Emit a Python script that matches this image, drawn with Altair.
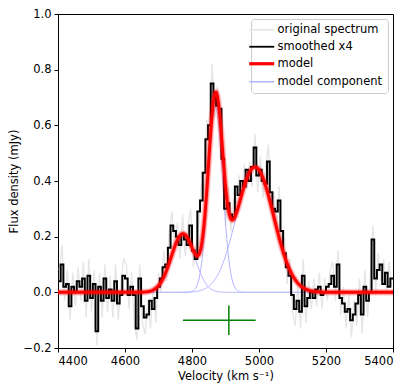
import altair as alt
import pandas as pd
import numpy as np

# ---------------- data ----------------
bin_width = 8
smooth_start = 4400
smoothed = [
    0.04, 0.10, 0.02, 0.03, -0.05, 0.02, 0.00, 0.04, 0.02, 0.05,
    -0.03, 0.06, -0.02, 0.03, -0.14, 0.02, -0.03, 0.05, -0.02, 0.01,
    -0.03, 0.04, -0.04, -0.01, 0.06, 0.05, -0.01, 0.02, -0.01, -0.13,
    0.05, -0.05, -0.09, -0.08, -0.03, -0.06, -0.02, 0.02, 0.05, 0.09,
    0.10, 0.16, 0.24, 0.22, 0.20, 0.17, 0.21, 0.19, 0.17, 0.24,
    0.15, 0.12, 0.29, 0.33, 0.43, 0.55, 0.60, 0.75, 0.70, 0.67,
    0.66, 0.48, 0.30, 0.32, 0.28, 0.27, 0.38, 0.35, 0.40, 0.38,
    0.44, 0.40, 0.45, 0.52, 0.42, 0.44, 0.40, 0.39, 0.47, 0.36,
    0.30, 0.29, 0.33, 0.22, 0.14, 0.09, 0.06, -0.01, -0.06, -0.03,
    -0.07, 0.06, -0.05, -0.02, 0.00, -0.02, 0.01, 0.02, -0.01, 0.00,
    0.02, 0.03, 0.06, 0.02, 0.10, -0.02, -0.04, -0.07, -0.06, -0.10,
    -0.08, -0.04, -0.01, -0.08, 0.02, -0.03, 0.00, 0.19, 0.05, 0.08,
    0.10, 0.03, 0.07, 0.02, 0.05,
]
orig_start = 4404
original = [
    0.08, 0.17, -0.03, 0.08, -0.10, 0.07, -0.05, 0.09, -0.03, 0.11,
    -0.09, 0.12, -0.07, 0.08, -0.19, 0.07, -0.09, 0.10, -0.07, 0.06,
    -0.09, 0.10, -0.10, 0.04, 0.12, 0.10, -0.06, 0.07, -0.12, -0.17,
    0.10, -0.11, -0.15, -0.03, -0.13, 0.02, -0.11, 0.07, 0.00, 0.15,
    0.04, 0.22, 0.29, 0.16, 0.25, 0.12, 0.28, 0.13, 0.24, 0.30,
    0.09, 0.17, 0.24, 0.39, 0.36, 0.62, 0.52, 0.82, 0.63, 0.74,
    0.58, 0.55, 0.24, 0.38, 0.22, 0.33, 0.32, 0.42, 0.33, 0.46,
    0.37, 0.47, 0.38, 0.57, 0.36, 0.49, 0.34, 0.45, 0.53, 0.30,
    0.36, 0.23, 0.38, 0.16, 0.20, 0.03, 0.12, -0.07, -0.12, 0.03,
    -0.13, 0.12, -0.11, 0.04, -0.06, 0.05, -0.05, 0.07, -0.06, 0.05,
    -0.03, 0.08, 0.11, -0.03, 0.15, -0.08, 0.02, -0.13, -0.01, -0.16,
    -0.03, -0.12, 0.05, -0.15, 0.08, -0.09, 0.05, 0.24, -0.01, 0.14,
    0.04, 0.12, 0.01, 0.11, 0.02,
]

# Gaussian model components (centre, amplitude, sigma)
comp_center = [4773, 4870, 4988]
comp_amp = [0.21, 0.665, 0.45]
comp_sigma = [35, 21.5, 56]

# error cross (green)
err_v = [4910]
err_f = [-0.10]
err_v_lo = [137]
err_v_hi = [80]
err_f_half = [0.053]

x_ticks = [4400, 4600, 4800, 5000, 5200, 5400]
y_ticks = [-0.2, 0.0, 0.2, 0.4, 0.6, 0.8, 1.0]

series_names = ["original spectrum", "smoothed x4", "model", "model component"]
series_colors = ["#e6e6e6", "#000000", "#ff0000", "#b4b4ff"]

# ---------------- tables ----------------
df_orig = pd.DataFrame({
    "v": orig_start + bin_width * np.arange(len(original)),
    "f": original,
    "series": "original spectrum",
})
sm_x = list(smooth_start + bin_width * np.arange(len(smoothed))) + [5400]
df_smooth = pd.DataFrame({"v": sm_x, "f": smoothed + [smoothed[-1]], "series": "smoothed x4"})

grid = np.arange(4400, 5400.1, 2.0)
comp_frames = []
total = np.zeros_like(grid)
for k, (c, a, s) in enumerate(zip(comp_center, comp_amp, comp_sigma)):
    g = a * np.exp(-0.5 * ((grid - c) / s) ** 2)
    total = total + g
    comp_frames.append(pd.DataFrame({"v": grid, "f": g, "comp": k, "series": "model component"}))
df_comp = pd.concat(comp_frames, ignore_index=True)
df_model = pd.DataFrame({"v": grid, "f": total, "series": "model"})

df_err = pd.DataFrame({
    "v": [err_v[0] - err_v_lo[0], err_v[0]],
    "v2": [err_v[0] + err_v_hi[0], err_v[0]],
    "f": [err_f[0], err_f[0] + err_f_half[0]],
    "f2": [err_f[0], err_f[0] - err_f_half[0]],
})

# ---------------- encodings ----------------
FS = 11.5
x_enc = alt.X("v:Q", scale=alt.Scale(domain=[4400, 5400], nice=False, zero=False),
              axis=alt.Axis(values=x_ticks, format="d", title="Velocity (km s⁻¹)"))
y_enc = alt.Y("f:Q", scale=alt.Scale(domain=[-0.2, 1.0], nice=False, zero=False),
              axis=alt.Axis(values=y_ticks, format=".1f", title="Flux density (mJy)"))

width_expr = ("datum.value === 'model' ? 3.2 : datum.value === 'smoothed x4' ? 1.8 : 1.6")
color_enc = alt.Color(
    "series:N",
    scale=alt.Scale(domain=series_names, range=series_colors),
    legend=alt.Legend(
        title=None, orient="top-right",
        symbolStrokeWidth=alt.ExprRef(expr=width_expr),
    ),
)

orig = alt.Chart(df_orig).mark_line(strokeWidth=1.4, clip=True).encode(
    x=x_enc, y=y_enc, color=color_enc)
comp = alt.Chart(df_comp).mark_line(strokeWidth=1, clip=True).encode(
    x=x_enc, y=y_enc, color=color_enc, detail="comp:N")
smooth = alt.Chart(df_smooth).mark_line(interpolate="step-after", strokeWidth=2, clip=True).encode(
    x=x_enc, y=y_enc, color=color_enc)
glow = alt.Chart(df_model).mark_line(strokeWidth=7, opacity=0.15, clip=True, color="red").encode(
    x=x_enc, y=y_enc)
glow2 = alt.Chart(df_model).mark_line(strokeWidth=5, opacity=0.3, clip=True, color="red").encode(
    x=x_enc, y=y_enc)
model = alt.Chart(df_model).mark_line(strokeWidth=3, clip=True).encode(
    x=x_enc, y=y_enc, color=color_enc)
err = alt.Chart(df_err).mark_rule(color="green", strokeWidth=1.5).encode(
    x=x_enc, x2="v2:Q", y=y_enc, y2="f2:Q")

chart = alt.layer(orig, comp, smooth, glow, glow2, model, err).properties(
    width=335, height=334,
    autosize=alt.AutoSizeParams(type="none"),
    padding={"left": 50, "top": 6, "right": 14, "bottom": 40},
).configure_view(
    stroke="black", strokeWidth=1,
).configure_axis(
    grid=False, domainColor="black", tickColor="black", tickSize=4,
    labelFont="DejaVu Sans", labelFontSize=FS, labelColor="black", labelPadding=3,
    titleFont="DejaVu Sans", titleFontSize=FS, titleFontWeight="normal", titleColor="black",
    titlePadding=4,
).configure_legend(
    offset=5, symbolType="stroke", symbolSize=625, labelOffset=10,
    rowPadding=4, padding=5, strokeColor="#cccccc",
    fillColor="rgba(255,255,255,0.8)", cornerRadius=3,
    labelFont="DejaVu Sans", labelFontSize=FS, labelColor="black",
)

chart.save("out.html", embed_options={"renderer": "svg", "actions": False})
